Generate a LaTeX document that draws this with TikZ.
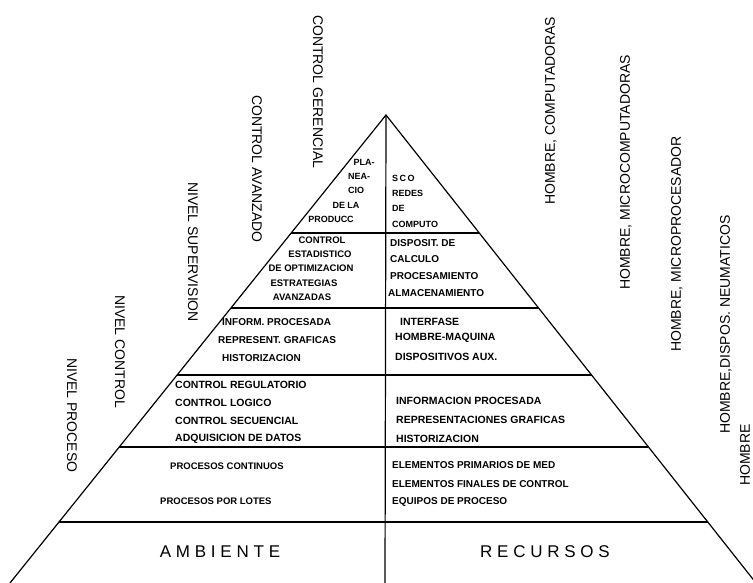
\documentclass[tikz,border=0pt]{standalone}
\usepackage{fontspec}
\setmainfont{Liberation Sans}
\newfontfamily\spacedfont[LetterSpace=28]{Liberation Sans}
\usetikzlibrary{calc}
\tikzset{
  lvlname/.style={font=\fontsize{14}{16}\selectfont, inner sep=0pt,
                  rotate=-90, anchor=west},
  resname/.style={font=\fontsize{14}{16}\selectfont, inner sep=0pt,
                  rotate=90, anchor=west},
  cell/.style={font=\bfseries\fontsize{#1}{#1}\selectfont, inner sep=0pt},
  cell/.default=9,
  footname/.style={font=\spacedfont\fontsize{17}{17}\selectfont, inner sep=0pt},
  edge/.style={line width=1.2pt, black},
}

\begin{document}
\begin{tikzpicture}[x=1pt, y=-1pt]
  \useasboundingbox (0,0) rectangle (753,583);

  % pyramid
  \coordinate (apex) at (386,115);
  \coordinate (bl) at (10,583);
  \coordinate (br) at (756,583);
  \coordinate (bm) at (385,583);
  \draw[edge] (bl) -- (apex) -- (br);
  \draw[edge] (apex) -- (bm);
  \foreach \ly in {233,308,375,447,522} {
    \pgfmathsetmacro\t{(\ly-115)/468}
    \draw[edge] ($(apex)!\t!(bl)$) -- ($(apex)!\t!(br)$);
  }

  % levels (left)
  \node[lvlname] (gerencial) at (318,15) {CONTROL GERENCIAL};
  \node[lvlname] (avanzado) at (257,95) {CONTROL AVANZADO};
  \node[lvlname] (supervision) at (193,182) {NIVEL SUPERVISION};
  \node[lvlname] (control) at (120,295) {NIVEL CONTROL};
  \node[lvlname] (proceso) at (72,358) {NIVEL PROCESO};

  % resources (right)
  \node[resname] (computadoras) at (551,205) {HOMBRE, COMPUTADORAS};
  \node[resname] (microcomp) at (626,290) {HOMBRE, MICROCOMPUTADORAS};
  \node[resname] (microproc) at (677,352) {HOMBRE, MICROPROCESADOR};
  \node[resname] (neumaticos) at (726,434) {HOMBRE,DISPOS. NEUMATICOS};
  \node[resname] (hombre) at (745,486) {HOMBRE};

  % row 1
  \node[cell] (pla) at (364,162) {PLA-};
  \node[cell] (nea) at (359,176) {NEA-};
  \node[cell] (cio) at (356,190) {CIO};
  \node[cell] (dela) at (346,205) {DE LA};
  \node[cell] (producc) at (331,219) {PRODUCC};
  \node[cell, anchor=west] (sco) at (392,178) {S\,C\,O};
  \node[cell, anchor=west] (redes) at (392,193) {REDES};
  \node[cell, anchor=west] (de) at (392,208) {DE};
  \node[cell, anchor=west] (computo) at (392,224) {COMPUTO};

  % row 2
  \node[cell=9.5] (ctrl) at (322,240) {CONTROL};
  \node[cell=9.5] (estad) at (320,254) {ESTADISTICO};
  \node[cell=9.5] (optim) at (311,268) {DE OPTIMIZACION};
  \node[cell=9.5] (estrat) at (304,283) {ESTRATEGIAS};
  \node[cell=9.5] (avanz) at (302,297) {AVANZADAS};
  \node[cell=10, anchor=west] (disposit) at (390,243) {DISPOSIT. DE};
  \node[cell=10, anchor=west] (calculo) at (390,259) {CALCULO};
  \node[cell=10, anchor=west] (procesam) at (390,276) {PROCESAMIENTO};
  \node[cell=10, anchor=west] (almac) at (388,293) {ALMACENAMIENTO};

  % row 3
  \node[cell=10, anchor=west] (inform) at (222,322) {INFORM. PROCESADA};
  \node[cell=10, anchor=west] (repres) at (218,340) {REPRESENT. GRAFICAS};
  \node[cell=10, anchor=west] (histor) at (222,358) {HISTORIZACION};
  \node[cell=10.5, anchor=west] (interf) at (400,322) {INTERFASE};
  \node[cell=10.5, anchor=west] (hmaq) at (395,338) {HOMBRE-MAQUINA};
  \node[cell=10.5, anchor=west] (dispaux) at (395,357) {DISPOSITIVOS AUX.};

  % row 4
  \node[cell=10.5, anchor=west] (regul) at (175,385) {CONTROL REGULATORIO};
  \node[cell=10.5, anchor=west] (logico) at (175,403) {CONTROL LOGICO};
  \node[cell=10.5, anchor=west] (secuen) at (175,421) {CONTROL SECUENCIAL};
  \node[cell=10.5, anchor=west] (adquis) at (175,439) {ADQUISICION DE DATOS};
  \node[cell=10.5, anchor=west] (infproc) at (396,401) {INFORMACION PROCESADA};
  \node[cell=10.5, anchor=west] (repgraf) at (396,420) {REPRESENTACIONES GRAFICAS};
  \node[cell=10.5, anchor=west] (historiz) at (396,439) {HISTORIZACION};

  % row 5
  \node[cell=9.5, anchor=west] (continuos) at (170,466) {PROCESOS CONTINUOS};
  \node[cell=9.5, anchor=west] (lotes) at (160,501) {PROCESOS POR LOTES};
  \node[cell=10, anchor=west] (primarios) at (392,465) {ELEMENTOS PRIMARIOS DE MED};
  \node[cell=10, anchor=west] (finales) at (392,484) {ELEMENTOS FINALES DE CONTROL};
  \node[cell=10, anchor=west] (equipos) at (392,502) {EQUIPOS DE PROCESO};

  % base
  \node[footname] (ambiente) at (220,552) {AMBIENTE};
  \node[footname] (recursos) at (545,552) {RECURSOS};
\end{tikzpicture}
\end{document}
